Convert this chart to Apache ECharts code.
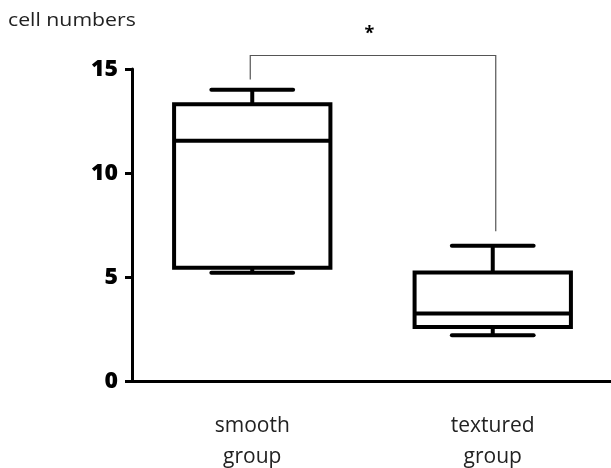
<!DOCTYPE html>
<html>
<head>
<meta charset="utf-8">
<script src="https://cdn.jsdelivr.net/npm/echarts@6/dist/echarts.min.js"></script>
<style>
html,body{margin:0;padding:0;background:#fff;}
#chart{width:611px;height:468px;}
</style>
</head>
<body>
<div id="chart"></div>
<script>
// ---- data ----
const categories = ['smooth\ngroup', 'textured\ngroup'];
// [min, Q1, median, Q3, max]
const boxValues = [
  [5.2, 5.45, 11.55, 13.3, 14.0],
  [2.2, 2.6, 3.25, 5.22, 6.5]
];
const yTicks = [0, 5, 10, 15];
const bracketTop = 15.65;
const bracketEnds = [14.5, 7.2];
const starValue = 16.88;
const starLabel = '*';
const yAxisTitle = 'cell numbers';

const chart = echarts.init(document.getElementById('chart'));

const boxData = boxValues.map((v, i) => [i].concat(v));

function renderBox(params, api) {
  const i = api.value(0);
  const band = api.size([1, 0])[0];
  const half = band * 0.325;
  const capHalf = band * 0.17;
  const pMin = api.coord([i, api.value(1)]);
  const pQ1 = api.coord([i, api.value(2)]);
  const pMed = api.coord([i, api.value(3)]);
  const pQ3 = api.coord([i, api.value(4)]);
  const pMax = api.coord([i, api.value(5)]);
  const cx = pMed[0];
  const st = {stroke: '#000', lineWidth: 4, fill: null, lineCap: 'round'};
  const stFlat = {stroke: '#000', lineWidth: 4, fill: null};
  return {
    type: 'group',
    children: [
      {type: 'line', shape: {x1: cx, y1: pMax[1], x2: cx, y2: pQ3[1]}, style: stFlat},
      {type: 'line', shape: {x1: cx, y1: pQ1[1], x2: cx, y2: pMin[1]}, style: stFlat},
      {type: 'rect', shape: {x: cx - half, y: pQ3[1], width: half * 2, height: pQ1[1] - pQ3[1]},
        style: {stroke: '#000', lineWidth: 4, fill: '#fff'}},
      {type: 'line', shape: {x1: cx - half, y1: pMed[1], x2: cx + half, y2: pMed[1]}, style: stFlat},
      {type: 'line', shape: {x1: cx - capHalf, y1: pMax[1], x2: cx + capHalf, y2: pMax[1]}, style: st},
      {type: 'line', shape: {x1: cx - capHalf, y1: pMin[1], x2: cx + capHalf, y2: pMin[1]}, style: st}
    ]
  };
}

function renderBracket(params, api) {
  const a = api.coord([0, bracketEnds[0]]);
  const b = api.coord([1, bracketEnds[1]]);
  const top = api.coord([0, bracketTop])[1];
  const star = api.coord([0, starValue]);
  const st = {stroke: '#555', lineWidth: 1.2, fill: null};
  return {
    type: 'group',
    children: [
      {type: 'polyline', shape: {points: [[a[0] - 2, a[1]], [a[0] - 2, top], [b[0] + 3, top], [b[0] + 3, b[1]]]}, style: st},
      {type: 'text', x: (a[0] + b[0]) / 2 - 3, y: star[1] + 4,
        style: {text: starLabel, fill: '#000', font: 'bold 18px "Open Sans", sans-serif', align: 'center', verticalAlign: 'middle'}}
    ]
  };
}

chart.setOption({
  animation: false,
  backgroundColor: '#fff',
  grid: {left: 132, top: 69, width: 481, height: 312, containLabel: false, outerBoundsMode: 'none'},
  graphic: [{
    type: 'text', left: 8, top: 12, scaleX: 1.18, originX: 0,
    style: {text: yAxisTitle, fill: '#222', font: '18px "Open Sans", sans-serif'}
  }],
  xAxis: {
    type: 'category',
    data: categories,
    boundaryGap: true,
    axisLine: {lineStyle: {color: '#000', width: 3}},
    axisTick: {alignWithLabel: true, length: 7, lineStyle: {color: '#000', width: 3}},
    axisLabel: {margin: 30, color: '#222', fontFamily: 'Open Sans', fontSize: 21, lineHeight: 31}
  },
  yAxis: {
    type: 'value',
    min: 0, max: 15, interval: 5,
    splitLine: {show: false},
    axisLine: {show: true, lineStyle: {color: '#000', width: 3}},
    axisTick: {show: true, length: 7, lineStyle: {color: '#000', width: 3}},
    axisLabel: {margin: 14, color: '#000', fontFamily: 'Open Sans', fontWeight: 800, fontSize: 23,
      padding: [0, 0, 5, 0],
      formatter: v => yTicks.indexOf(v) >= 0 ? String(v) : ''}
  },
  series: [
    {type: 'custom', renderItem: renderBox, data: boxData, clip: false,
      encode: {x: 0, y: [1, 2, 3, 4, 5]}, z: 3},
    {type: 'custom', renderItem: renderBracket, data: [[0, bracketTop]], clip: false,
      encode: {x: 0, y: 1}, z: 2}
  ]
});
</script>
</body>
</html>
